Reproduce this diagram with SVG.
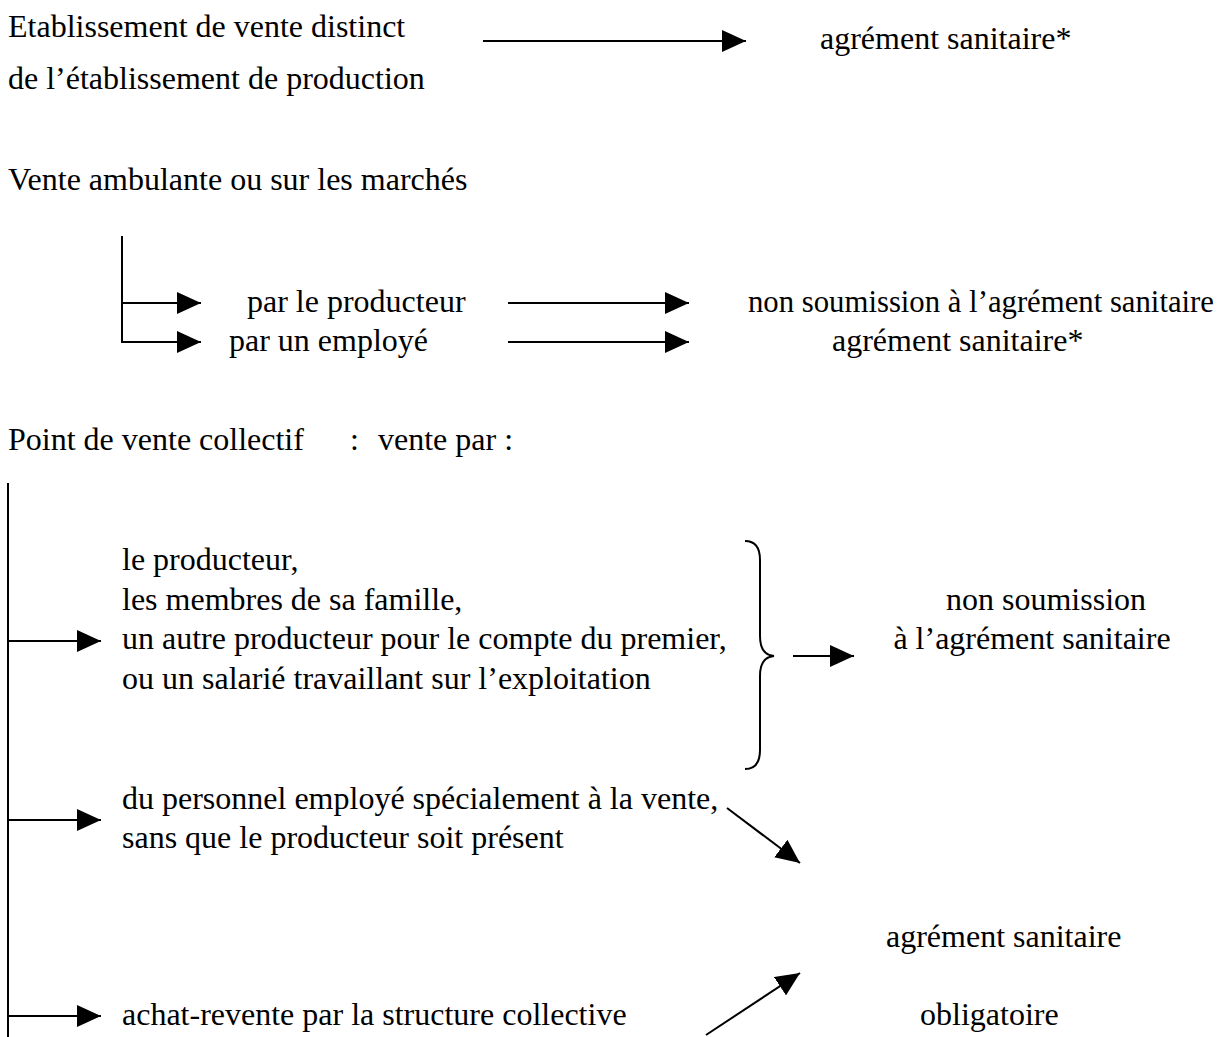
<svg xmlns="http://www.w3.org/2000/svg" width="1232" height="1037" viewBox="0 0 1232 1037">
<defs>
<style>
text{font-family:"Liberation Serif","Times New Roman",serif;font-size:32px;fill:#000}
.m{text-anchor:middle}
.c{stroke:#000;stroke-width:2;fill:none}
</style>
<marker id="ah" viewBox="0 0 24 22" refX="24" refY="11" markerWidth="24" markerHeight="22" markerUnits="userSpaceOnUse" orient="auto"><path d="M0,0 L24,11 L0,22 z" fill="#000"/></marker>
</defs>
<rect width="1232" height="1037" fill="#fff"/>
<g id="n-etab"><text x="8" y="37">Etablissement de vente distinct</text><text x="8" y="89">de l’établissement de production</text></g>
<g id="n-agr1"><text x="820" y="49">agrément sanitaire*</text></g>
<g id="n-ambul"><text x="8" y="190">Vente ambulante ou sur les marchés</text></g>
<g id="n-prod"><text x="247" y="312">par le producteur</text></g>
<g id="n-empl"><text x="229" y="351">par un employé</text></g>
<g id="n-nonsoum1"><text x="748" y="312" style="font-size:31px" textLength="466" lengthAdjust="spacingAndGlyphs">non soumission à l’agrément sanitaire</text></g>
<g id="n-agr2"><text x="832" y="351">agrément sanitaire*</text></g>
<g id="n-point"><text x="8" y="450">Point de vente collectif<tspan x="350">:</tspan><tspan x="378">vente par :</tspan></text></g>
<g id="n-list"><text x="122" y="570">le producteur,</text><text x="122" y="610">les membres de sa famille,</text><text x="122" y="649">un autre producteur pour le compte du premier,</text><text x="122" y="689">ou un salarié travaillant sur l’exploitation</text></g>
<g id="n-nonsoum2"><text class="m" x="1046" y="610">non soumission</text><text class="m" x="1032" y="649">à l’agrément sanitaire</text></g>
<g id="n-perso"><text x="122" y="809">du personnel employé spécialement à la vente,</text><text x="122" y="848">sans que le producteur soit présent</text></g>
<g id="n-achat"><text x="122" y="1025">achat-revente par la structure collective</text></g>
<g id="n-oblig"><text x="886" y="947">agrément sanitaire</text><text x="920" y="1025">obligatoire</text></g>
<g id="connectors" class="c">
<line x1="483" y1="41" x2="746" y2="41" marker-end="url(#ah)"/>
<line x1="122" y1="236" x2="122" y2="343"/>
<line x1="121" y1="303" x2="201" y2="303" marker-end="url(#ah)"/>
<line x1="121" y1="342" x2="201" y2="342" marker-end="url(#ah)"/>
<line x1="508" y1="303" x2="689" y2="303" marker-end="url(#ah)"/>
<line x1="508" y1="342" x2="689" y2="342" marker-end="url(#ah)"/>
<line x1="8" y1="483" x2="8" y2="1037"/>
<line x1="7" y1="641" x2="101" y2="641" marker-end="url(#ah)"/>
<line x1="7" y1="820" x2="101" y2="820" marker-end="url(#ah)"/>
<line x1="7" y1="1016" x2="101" y2="1016" marker-end="url(#ah)"/>
<path d="M745,541 Q760,541 760,560 L760,636 Q760,655 774,656 Q760,657 760,676 L760,750 Q760,769 745,769"/>
<line x1="793" y1="656" x2="854" y2="656" marker-end="url(#ah)"/>
<line x1="727" y1="808" x2="800" y2="863" marker-end="url(#ah)"/>
<line x1="706" y1="1035" x2="800" y2="973" marker-end="url(#ah)"/>
</g>
</svg>
